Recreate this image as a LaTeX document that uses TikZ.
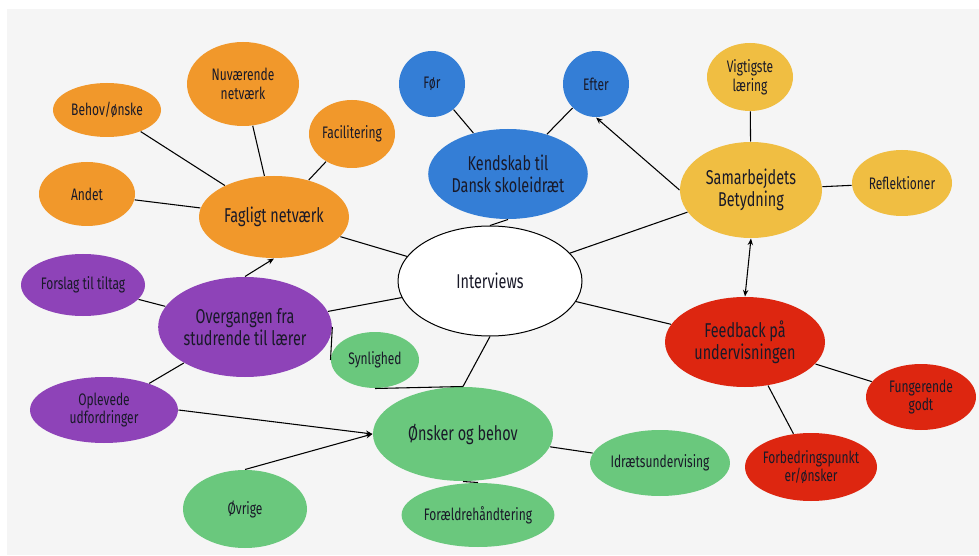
\documentclass[tikz,border=0pt]{standalone}
\usepackage{fontspec}
\setmainfont{Fira Sans}[FakeStretch=0.72]
\usetikzlibrary{shapes.geometric,arrows.meta}

\definecolor{bgGray}{RGB}{245,245,245}
\definecolor{txtDark}{RGB}{25,25,40}
\definecolor{ovOrange}{RGB}{241,152,43}
\definecolor{ovBlue}{RGB}{52,126,214}
\definecolor{ovYellow}{RGB}{240,190,66}
\definecolor{ovPurple}{RGB}{142,67,184}
\definecolor{ovRed}{RGB}{221,38,16}
\definecolor{ovGreen}{RGB}{106,200,125}

\tikzset{every picture/.style={line width=0.75pt}}
\tikzset{
  bubble/.style={ellipse, inner sep=0pt, align=center, text=txtDark},
  bigtxt/.style={font=\fontsize{15}{16.5}\selectfont},
  smalltxt/.style={font=\fontsize{12.5}{14}\selectfont},
  tie/.style={draw=black, line width=0.8pt},
  tip/.style={tie, -{Stealth[length=5pt,width=4pt]}},
  twotip/.style={tie, {Stealth[length=5pt,width=4pt]}-{Stealth[length=5pt,width=4pt]}},
}

\begin{document}
\begin{tikzpicture}[x=0.75pt,y=0.75pt,yscale=-1,xscale=1]
\useasboundingbox (0,0) rectangle (979,556);
%Background
\fill [bgGray] (7,9) rectangle (979,555);

%Flowchart: Connector [Interviews]
\node [bubble, draw=black, fill=white, minimum width=138pt, minimum height=82.5pt, bigtxt] (iv) at (490,281) {Interviews};
%Flowchart: Connector [Kendskab]
\node [bubble, fill=ovBlue, minimum width=114pt, minimum height=67.5pt, bigtxt] (kds) at (508,174) {Kendskab til\\Dansk skoleidræt};
%Flowchart: Connector [Før]
\node [bubble, fill=ovBlue, minimum width=49.5pt, minimum height=49.5pt, smalltxt] (foer) at (432,84) {Før};
%Flowchart: Connector [Efter]
\node [bubble, fill=ovBlue, minimum width=49.5pt, minimum height=49.5pt, smalltxt] (eft) at (596,84) {Efter};

%Flowchart: Connector [Fagligt netværk]
\node [bubble, fill=ovOrange, minimum width=112.5pt, minimum height=61.5pt, bigtxt] (fag) at (274,217) {Fagligt netværk};
%Flowchart: Connector [Nuværende]
\node [bubble, fill=ovOrange, minimum width=84pt, minimum height=63pt, smalltxt] (nuv) at (243,84) {Nuværende\\netværk};
%Flowchart: Connector [Behov]
\node [bubble, fill=ovOrange, minimum width=81pt, minimum height=40.5pt, smalltxt] (beh) at (107,110) {Behov/ønske};
%Flowchart: Connector [Facilitering]
\node [bubble, fill=ovOrange, minimum width=64.5pt, minimum height=51pt, smalltxt] (fac) at (352,134) {Facilitering};
%Flowchart: Connector [Andet]
\node [bubble, fill=ovOrange, minimum width=72pt, minimum height=48pt, smalltxt] (andet) at (87,194) {Andet};

%Flowchart: Connector [Samarbejdets]
\node [bubble, fill=ovYellow, minimum width=106.5pt, minimum height=72pt, bigtxt] (sam) at (751,190) {Samarbejdets\\Betydning};
%Flowchart: Connector [Vigtigste]
\node [bubble, fill=ovYellow, minimum width=64.5pt, minimum height=51pt, smalltxt] (vig) at (750,77) {Vigtigste\\læring};
%Flowchart: Connector [Reflektioner]
\node [bubble, fill=ovYellow, minimum width=75pt, minimum height=49.5pt, smalltxt] (refl) at (902,183) {Reflektioner};

%Flowchart: Connector [Overgangen]
\node [bubble, fill=ovPurple, minimum width=120pt, minimum height=75pt, bigtxt] (ovg) at (245,327) {Overgangen fra\\studrende til lærer};
%Flowchart: Connector [Forslag]
\node [bubble, fill=ovPurple, minimum width=93pt, minimum height=46.5pt, smalltxt] (fst) at (83,285) {Forslag til tiltag};
%Flowchart: Connector [Oplevede]
\node [bubble, fill=ovPurple, minimum width=111pt, minimum height=49.5pt, smalltxt] (opl) at (104,410) {Oplevede\\udfordringer};

%Flowchart: Connector [Ønsker og behov]
\node [bubble, fill=ovGreen, minimum width=135pt, minimum height=70.5pt, bigtxt] (ons) at (463,434) {Ønsker og behov};
%Flowchart: Connector [Synlighed]
\node [bubble, fill=ovGreen, minimum width=66pt, minimum height=42pt, smalltxt] (syn) at (375,360) {Synlighed};
%Flowchart: Connector [Øvrige]
\node [bubble, fill=ovGreen, minimum width=93pt, minimum height=58.5pt, smalltxt] (ovr) at (245,509) {Øvrige};
%Flowchart: Connector [Forældrehåndtering]
\node [bubble, fill=ovGreen, minimum width=108pt, minimum height=48pt, smalltxt] (frh) at (478,515) {Forældrehåndtering};
%Flowchart: Connector [Idrætsundervising]
\node [bubble, fill=ovGreen, minimum width=102pt, minimum height=49.5pt, smalltxt] (idr) at (660,463) {Idrætsundervising};

%Flowchart: Connector [Feedback]
\node [bubble, fill=ovRed, minimum width=120pt, minimum height=67.5pt, bigtxt] (fbk) at (745,342) {Feedback på\\undervisningen};
%Flowchart: Connector [Fungerende]
\node [bubble, fill=ovRed, minimum width=82.5pt, minimum height=49.5pt, smalltxt] (fun) at (921,397) {Fungerende\\godt};
%Flowchart: Connector [Forbedringspunkter]
\node [bubble, fill=ovRed, minimum width=99pt, minimum height=51pt, inner xsep=-4pt, smalltxt] (fbp) at (811,467) {Forbedringspunkt\\er/ønsker};

%Straight Lines [Fagligt netværk]
\draw [tie] (beh) -- (fag) ;
\draw [tie] (nuv) -- (fag) ;
\draw [tie] (fac) -- (fag) ;
\draw [tie] (andet) -- (fag) ;
\draw [tie] (fag) -- (iv) ;
%Straight Lines [Kendskab]
\draw [tie] (foer) -- (kds) ;
\draw [tie] (eft) -- (kds) ;
\draw [tie] (kds.south) -- (iv.north) ;
%Straight Lines [Samarbejdets]
\draw [tip] (sam.west) -- (eft.south) ;
\draw [tie] (vig) -- (sam) ;
\draw [tie] (refl) -- (sam) ;
\draw [tie] (iv) -- (sam) ;
\draw [twotip] (sam.south) -- (fbk.north) ;
%Straight Lines [Feedback]
\draw [tie] (iv) -- (fbk) ;
\draw [tie] (fbk) -- (fun) ;
\draw [tie] (fbk) -- (fbp) ;
%Straight Lines [Overgangen]
\draw [tip] (ovg.north) -- (fag.south) ;
\draw [tie] (fst) -- (ovg) ;
\draw [tie] (ovg) -- (iv) ;
\draw [tie] (opl) -- (ovg) ;
\draw [tie] (ovg.east) -- (syn.west) ;
%Straight Lines [Ønsker og behov]
\draw [tip] (opl.east) -- (ons.west) ;
\draw [tip] (ovr.north) -- (ons.west) ;
\draw [tie] (syn.south) -- (ons.north) ;
\draw [tie] (iv.south) -- (ons.north) ;
\draw [tie] (ons) -- (idr) ;
\draw [tie] (ons.south) -- (frh.north) ;

\end{tikzpicture}
\end{document}
